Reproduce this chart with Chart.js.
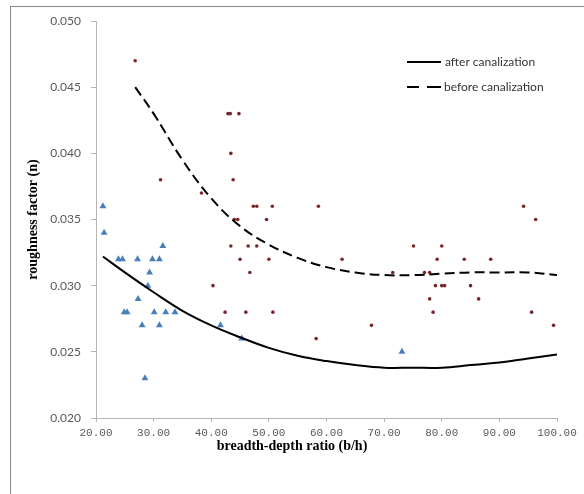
<!DOCTYPE html>
<html>
<head>
<meta charset="utf-8">
<script src="https://cdn.jsdelivr.net/npm/chart.js@4.4.0/dist/chart.umd.min.js"></script>
<style>
  html, body { margin: 0; padding: 0; background: #fff; overflow: hidden; }
  #wrap { position: relative; width: 584px; height: 494px; }
  #frame { position: absolute; left: 10px; top: 6px; width: 620px; height: 540px;
           border: 1px solid #8a8a8a; pointer-events: none; }
  canvas { position: absolute; left: 0; top: 0; }
</style>
</head>
<body>
<div id="wrap">
  <canvas id="roughChart" width="584" height="494"></canvas>
  <div id="frame"></div>
</div>
<script>
// measured points, after canalization (blue triangles)
const afterX = [21.2, 21.4, 31.6, 23.9, 24.6, 27.2, 29.8, 31.0, 29.3, 29.0, 27.3,
                24.9, 25.4, 30.1, 32.1, 33.7, 28.0, 31.0, 28.5, 41.6, 45.3, 73.1];
const afterY = [0.036, 0.034, 0.033, 0.032, 0.032, 0.032, 0.032, 0.032, 0.031, 0.030, 0.029,
                0.028, 0.028, 0.028, 0.028, 0.028, 0.027, 0.027, 0.023, 0.027, 0.026, 0.025];

// measured points, before canalization (small dark red dots)
const beforeX = [26.8, 42.9, 43.3, 44.8, 43.4, 31.2, 43.8, 38.3,
                 47.3, 47.9, 50.6, 58.6, 94.2, 44.0, 44.6, 49.6, 96.3,
                 43.4, 46.4, 47.9, 75.1, 80.0, 45.0, 50.0, 62.7, 79.2, 83.9, 88.5,
                 46.7, 71.5, 77.0, 77.9, 40.3, 78.9, 80.0, 80.5, 85.0, 77.9, 86.4,
                 42.4, 46.0, 50.7, 78.5, 95.6, 67.8, 99.4, 58.2];
const beforeY = [0.047, 0.043, 0.043, 0.043, 0.040, 0.038, 0.038, 0.037,
                 0.036, 0.036, 0.036, 0.036, 0.036, 0.035, 0.035, 0.035, 0.035,
                 0.033, 0.033, 0.033, 0.033, 0.033, 0.032, 0.032, 0.032, 0.032, 0.032, 0.032,
                 0.031, 0.031, 0.031, 0.031, 0.030, 0.030, 0.030, 0.030, 0.030, 0.029, 0.029,
                 0.028, 0.028, 0.028, 0.028, 0.028, 0.027, 0.027, 0.026];

// trend lines
const trendAfterX = [21.2, 25, 30, 35, 40, 45, 50, 55, 60, 65, 70, 75, 80, 85, 90, 95, 100];
const trendAfterY = [0.0322, 0.0310, 0.0295, 0.0281, 0.0270, 0.0261, 0.0253, 0.0247, 0.0243,
                     0.0240, 0.0238, 0.0238, 0.0238, 0.0240, 0.0242, 0.0245, 0.0248];
const trendBeforeX = [26.8, 30, 35, 40, 45, 50, 55, 60, 65, 70, 75, 80, 85, 90, 95, 100];
const trendBeforeY = [0.0450, 0.0430, 0.0395, 0.0366, 0.0345, 0.0331, 0.0321, 0.0314,
                      0.0310, 0.0308, 0.0308, 0.0309, 0.0310, 0.0310, 0.0310, 0.0308];

const xTicks = [20, 30, 40, 50, 60, 70, 80, 90, 100];
const yTicks = [0.020, 0.025, 0.030, 0.035, 0.040, 0.045, 0.050];

const legendLabels = ["after canalization", "before canalization"];
const xTitle = "breadth-depth ratio (b/h)";
const yTitle = "roughness factor (n)";

function toPoints(xs, ys) {
    return xs.map((x, i) => ({ x: x, y: ys[i] }));
}

// legend and x title drawn by hand (positions as in the original)
const extrasPlugin = {
    id: "extras",
    afterDraw(chart) {
        const ctx = chart.ctx;
        ctx.save();
        ctx.strokeStyle = "#000";
        ctx.lineWidth = 2;
        ctx.beginPath();
        ctx.moveTo(407, 62); ctx.lineTo(441, 62);
        ctx.stroke();
        ctx.beginPath();
        ctx.moveTo(407, 87); ctx.lineTo(419, 87);
        ctx.moveTo(427, 87); ctx.lineTo(441, 87);
        ctx.stroke();
        ctx.fillStyle = "#333";
        ctx.font = "12px Lato";
        ctx.textBaseline = "middle";
        ctx.fillText(legendLabels[0], 445, 62);
        ctx.fillText(legendLabels[1], 444, 87);

        ctx.fillStyle = "#000";
        ctx.font = "bold 14px 'Liberation Serif'";
        ctx.textAlign = "center";
        ctx.fillText(xTitle, 292, 446);
        ctx.restore();
    }
};

const axisColor = "#b5b5b5";

new Chart(document.getElementById("roughChart").getContext("2d"), {
    type: "scatter",
    data: {
        datasets: [
            {
                label: legendLabels[0],
                data: toPoints(trendAfterX, trendAfterY),
                showLine: true,
                borderColor: "#000",
                borderWidth: 2,
                pointRadius: 0,
                tension: 0.4,
                order: 1
            },
            {
                label: legendLabels[1],
                data: toPoints(trendBeforeX, trendBeforeY),
                showLine: true,
                borderColor: "#000",
                borderWidth: 2,
                borderDash: [10, 5],
                pointRadius: 0,
                tension: 0.4,
                order: 1
            },
            {
                label: "after points",
                data: toPoints(afterX, afterY),
                pointStyle: "triangle",
                pointRadius: 4,
                backgroundColor: "#4a7ebb",
                borderColor: "#4a7ebb",
                borderWidth: 0,
                order: 2
            },
            {
                label: "before points",
                data: toPoints(beforeX, beforeY),
                pointStyle: "circle",
                pointRadius: 1.8,
                backgroundColor: "#7a2626",
                borderColor: "#7a2626",
                borderWidth: 0,
                order: 2
            }
        ]
    },
    options: {
        responsive: false,
        animation: false,
        devicePixelRatio: 1,
        layout: { padding: { left: 0, top: 21, right: 27, bottom: 0 } },
        plugins: {
            legend: { display: false },
            tooltip: { enabled: false }
        },
        scales: {
            x: {
                type: "linear",
                min: 20,
                max: 100,
                afterBuildTicks: (scale) => { scale.ticks = xTicks.map(v => ({ value: v })); },
                afterFit: (scale) => { scale.height = 76; },
                grid: { drawOnChartArea: false, drawTicks: true, tickLength: 4, color: axisColor },
                border: { color: axisColor },
                ticks: {
                    padding: 4,
                    color: "#595959",
                    font: { family: "'Liberation Mono'", size: 11 },
                    maxRotation: 0,
                    callback: (v) => v.toFixed(2)
                }
            },
            y: {
                type: "linear",
                min: 0.02,
                max: 0.05,
                afterBuildTicks: (scale) => { scale.ticks = yTicks.map(v => ({ value: v })); },
                afterFit: (scale) => { scale.width = 96; },
                grid: { drawOnChartArea: false, drawTicks: true, tickLength: 5, color: axisColor },
                border: { color: axisColor },
                ticks: {
                    padding: 10,
                    color: "#595959",
                    font: { family: "Lato", size: 12 },
                    callback: (v) => v.toFixed(3)
                },
                title: {
                    display: true,
                    text: yTitle,
                    color: "#000",
                    font: { family: "'Liberation Serif'", size: 14, weight: "bold" },
                    padding: { top: 25, bottom: 0 }
                }
            }
        }
    },
    plugins: [extrasPlugin]
});
</script>
</body>
</html>
